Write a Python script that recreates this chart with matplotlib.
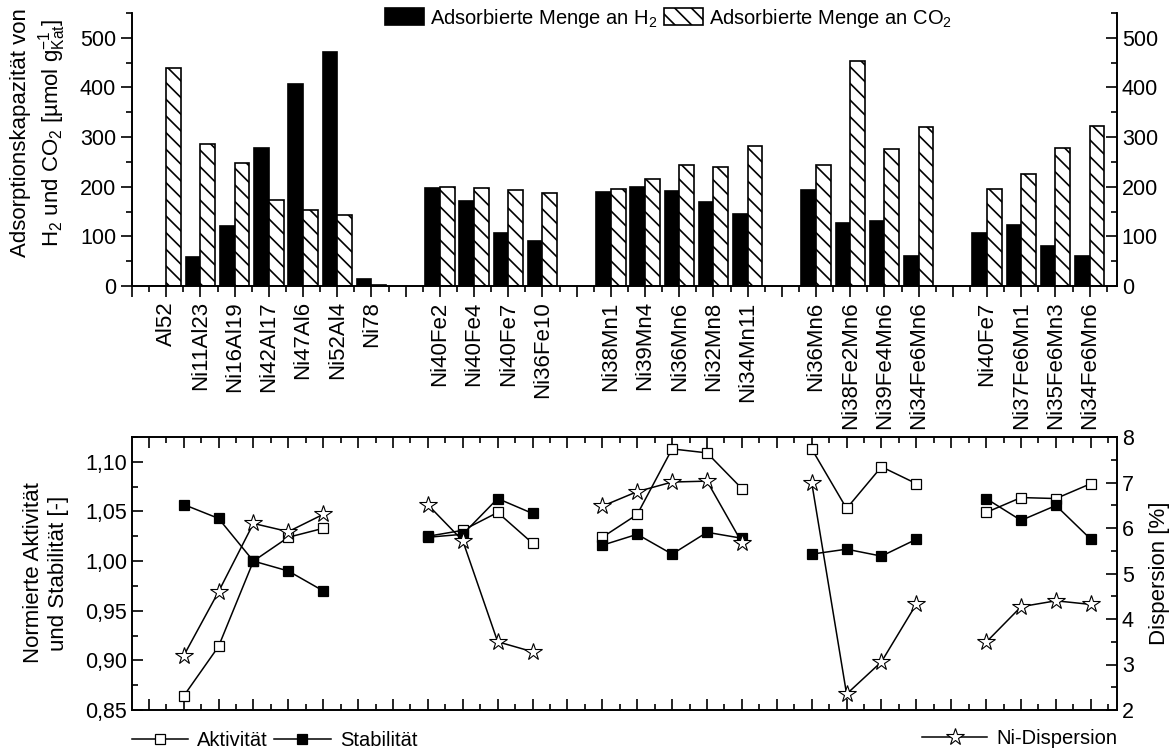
import numpy as np
import matplotlib
matplotlib.use("Agg")
import matplotlib.pyplot as plt
from matplotlib.patches import Patch
from matplotlib.lines import Line2D
from matplotlib.ticker import FuncFormatter, MultipleLocator

plt.rcParams['font.family'] = ['Liberation Sans', 'DejaVu Sans']
plt.rcParams['mathtext.fontset'] = 'custom'
plt.rcParams['mathtext.rm'] = 'Liberation Sans'
plt.rcParams['mathtext.it'] = 'Liberation Sans:italic'
plt.rcParams['mathtext.bf'] = 'Liberation Sans:bold'
plt.rcParams['hatch.linewidth'] = 1.2

# ---------------- data: top (adsorption) ----------------
groups_top = [
    ['Al52', 'Ni11Al23', 'Ni16Al19', 'Ni42Al17', 'Ni47Al6', 'Ni52Al4', 'Ni78'],
    ['Ni40Fe2', 'Ni40Fe4', 'Ni40Fe7', 'Ni36Fe10'],
    ['Ni38Mn1', 'Ni39Mn4', 'Ni36Mn6', 'Ni32Mn8', 'Ni34Mn11'],
    ['Ni36Mn6', 'Ni38Fe2Mn6', 'Ni39Fe4Mn6', 'Ni34Fe6Mn6'],
    ['Ni40Fe7', 'Ni37Fe6Mn1', 'Ni35Fe6Mn3', 'Ni34Fe6Mn6'],
]
h2_uptake = [0, 59, 120, 279, 406, 471, 15,
             198, 172, 106, 90,
             190, 199, 192, 170, 146,
             193, 126, 131, 61,
             107, 122, 81, 61]
co2_uptake = [439, 287, 248, 174, 153, 143, 3,
              200, 198, 194, 187,
              196, 215, 244, 240, 282,
              244, 454, 276, 321,
              196, 226, 278, 323]

# ---------------- data: bottom (activity / stability / dispersion) ----------------
group_sizes_bottom = [5, 4, 5, 4, 4]
bottom_x = [1, 2, 3, 4, 5,
            8, 9, 10, 11,
            13, 14, 15, 16, 17,
            19, 20, 21, 22,
            24, 25, 26, 27]
aktivitaet = [0.864, 0.914, 1.000, 1.024, 1.033,
              1.025, 1.031, 1.049, 1.018,
              1.024, 1.047, 1.113, 1.109, 1.073,
              1.113, 1.053, 1.095, 1.078,
              1.049, 1.064, 1.063, 1.078]
stabilitaet = [1.057, 1.043, 1.000, 0.990, 0.970,
               1.024, 1.027, 1.063, 1.048,
               1.016, 1.027, 1.007, 1.029, 1.023,
               1.007, 1.012, 1.005, 1.022,
               1.063, 1.041, 1.056, 1.022]
dispersion = [3.19, 4.60, 6.10, 5.92, 6.30,
              6.51, 5.72, 3.50, 3.28,
              6.48, 6.80, 7.01, 7.03, 5.68,
              7.00, 2.35, 3.06, 4.33,
              3.49, 4.27, 4.40, 4.32]

# ---------------- layout ----------------
W, H = 1172, 753
fig = plt.figure(figsize=(W / 100, H / 100), dpi=100)
L, R = 132, 1117
ax1 = fig.add_axes([L / W, (H - 286) / H, (R - L) / W, (286 - 13) / H])
ax3 = fig.add_axes([L / W, (H - 710) / H, (R - L) / W, (710 - 437) / H])

TICK_FS = 15.5
XTICK_FS = 16
LABEL_FS = 16
LEG_FS = 14.5
LW = 1.2

# ---------------- top panel ----------------
cat_pos, cat_lab = [], []
p = 1
for g in groups_top:
    for name in g:
        cat_pos.append(p)
        cat_lab.append(name)
        p += 1
    p += 1
cat_pos = np.array(cat_pos, dtype=float)
bw = 0.43
ax1.bar(cat_pos - bw / 2, h2_uptake, width=bw, color='black', edgecolor='black', linewidth=LW)
ax1.bar(cat_pos + bw / 2, co2_uptake, width=bw, color='white', edgecolor='black',
        linewidth=LW, hatch='\\\\')
ax1.set_xlim(0, 28.8)
ax1.set_ylim(0, 550)
ax1.spines['top'].set_visible(False)
for s in ['left', 'right', 'bottom']:
    ax1.spines[s].set_linewidth(LW)
major_all = np.arange(0, 29)
labels_all = []
for m in major_all:
    if m in cat_pos:
        labels_all.append(cat_lab[list(cat_pos).index(m)])
    else:
        labels_all.append('')
ax1.set_xticks(major_all)
ax1.set_xticklabels(labels_all, rotation=90, fontsize=XTICK_FS)
ax1.xaxis.set_minor_locator(MultipleLocator(0.5))
ax1.yaxis.set_major_locator(MultipleLocator(100))
ax1.yaxis.set_minor_locator(MultipleLocator(50))
ax1.tick_params(axis='x', which='major', direction='out', length=8, width=LW, pad=3)
ax1.tick_params(axis='x', which='minor', direction='out', length=4, width=LW)
ax1.tick_params(axis='y', which='major', direction='out', length=8, width=LW, labelsize=TICK_FS)
ax1.tick_params(axis='y', which='minor', direction='out', length=4, width=LW)
ax1r = ax1.twinx()
ax1r.set_ylim(ax1.get_ylim())
ax1r.spines['top'].set_visible(False)
for s in ['left', 'right', 'bottom']:
    ax1r.spines[s].set_linewidth(LW)
ax1r.yaxis.set_major_locator(MultipleLocator(100))
ax1r.yaxis.set_minor_locator(MultipleLocator(50))
ax1r.tick_params(axis='y', which='major', direction='in', length=8, width=LW, labelsize=TICK_FS)
ax1r.tick_params(axis='y', which='minor', direction='in', length=4, width=LW)

fig.text(39 / W, 1 - 133 / H,
         'Adsorptionskapazität von\nH$_2$ und CO$_2$ [µmol g$^{-1}_{\\mathrm{Kat}}$]',
         rotation=90, ha='center', va='center', multialignment='center', fontsize=LABEL_FS)

h_h2 = Patch(facecolor='black', edgecolor='black', linewidth=LW)
h_co2 = Patch(facecolor='white', edgecolor='black', linewidth=LW, hatch='\\\\')
fig.legend([h_h2, h_co2], ['Adsorbierte Menge an H$_2$', 'Adsorbierte Menge an CO$_2$'],
           loc='center left', bbox_to_anchor=(385 / W, 1 - 18 / H), ncol=2, frameon=False,
           fontsize=LEG_FS, handlelength=1.95, handleheight=0.85, handletextpad=0.3,
           columnspacing=0.3, borderpad=0, borderaxespad=0)

# ---------------- bottom panel ----------------
comma = FuncFormatter(lambda v, pos: f'{v:.2f}'.replace('.', ','))
ax3.set_xlim(-0.48, 27.75)
ax3.set_ylim(0.85, 1.125)
ax4 = ax3.twinx()
ax4.set_ylim(2, 8)

bx = np.array(bottom_x, dtype=float)
akt = np.array(aktivitaet)
stb = np.array(stabilitaet)
dsp = np.array(dispersion)
start = 0
for n in group_sizes_bottom:
    sl = slice(start, start + n)
    ax3.plot(bx[sl], akt[sl], '-', color='black', lw=1.1, marker='s', ms=6.5,
             mfc='white', mec='black', mew=0.9, zorder=3)
    ax3.plot(bx[sl], stb[sl], '-', color='black', lw=1.1, marker='s', ms=6.5,
             mfc='black', mec='black', mew=0.9, zorder=4)
    ax4.plot(bx[sl], dsp[sl], '-', color='black', lw=1.1, marker='*', ms=13,
             mfc='white', mec='black', mew=0.8, zorder=5)
    start += n

ax3.set_xticks(np.arange(0, 28))
ax3.set_xticklabels([])
ax3.xaxis.set_minor_locator(MultipleLocator(0.5))
ax3.yaxis.set_major_locator(MultipleLocator(0.05))
ax3.yaxis.set_minor_locator(MultipleLocator(0.025))
ax3.yaxis.set_major_formatter(comma)
ax3.tick_params(axis='x', which='major', direction='in', length=8, width=LW, top=True, bottom=True)
ax3.tick_params(axis='x', which='minor', direction='in', length=4, width=LW, top=True, bottom=True)
ax3.tick_params(axis='y', which='major', direction='in', length=8, width=LW, labelsize=TICK_FS)
ax3.tick_params(axis='y', which='minor', direction='in', length=4, width=LW)
ax4.yaxis.set_major_locator(MultipleLocator(1))
ax4.yaxis.set_minor_locator(MultipleLocator(0.5))
ax4.tick_params(axis='y', which='major', direction='in', length=8, width=LW, labelsize=TICK_FS)
ax4.tick_params(axis='y', which='minor', direction='in', length=4, width=LW)
for a in (ax3, ax4):
    for s in a.spines.values():
        s.set_linewidth(LW)

fig.text(46 / W, 1 - 573 / H, 'Normierte Aktivität\nund Stabilität [-]', rotation=90,
         ha='center', va='center', multialignment='center', fontsize=LABEL_FS)
fig.text(1159 / W, 1 - 573 / H, 'Dispersion [%]', rotation=90,
         ha='center', va='center', fontsize=LABEL_FS)

h_akt = Line2D([], [], color='black', lw=1.1, marker='s', ms=6.5, mfc='white', mec='black', mew=0.9)
h_stb = Line2D([], [], color='black', lw=1.1, marker='s', ms=6.5, mfc='black', mec='black', mew=0.9)
h_dsp = Line2D([], [], color='black', lw=1.1, marker='*', ms=13, mfc='white', mec='black', mew=0.8)
fig.legend([h_akt, h_stb], ['Aktivität', 'Stabilität'], loc='center left',
           bbox_to_anchor=(L / W, 1 - 741 / H), ncol=2, frameon=False, fontsize=LEG_FS,
           handlelength=2.8, handletextpad=0.45, columnspacing=0.3, borderpad=0,
           borderaxespad=0, numpoints=1)
fig.legend([h_dsp], ['Ni-Dispersion'], loc='center right',
           bbox_to_anchor=(R / W, 1 - 739 / H), frameon=False, fontsize=LEG_FS,
           handlelength=3.2, handletextpad=0.45, borderpad=0, borderaxespad=0, numpoints=1)

fig.savefig('out.png', dpi=100)
